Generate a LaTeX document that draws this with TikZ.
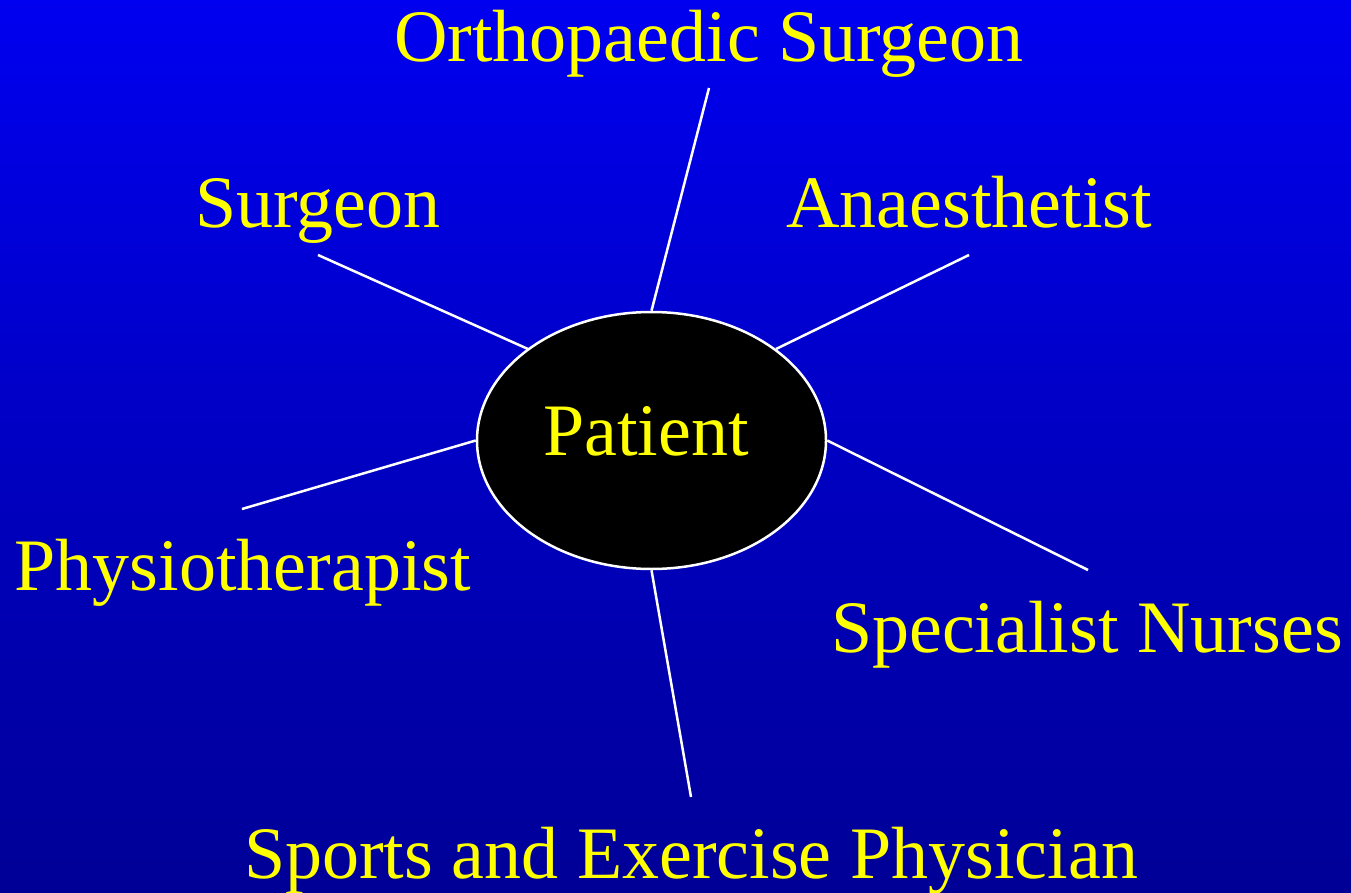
\documentclass[tikz,border=0pt]{standalone}
\usepackage{fontspec}
\setmainfont{Liberation Serif}
\usetikzlibrary{shapes.geometric}
\definecolor{bgtop}{RGB}{0,0,240}
\definecolor{bgbot}{RGB}{0,0,150}
\definecolor{txtyellow}{RGB}{255,255,0}
\tikzset{
  lbl/.style={anchor=base, text=txtyellow, inner sep=0pt, font=\fontsize{74}{80}\selectfont},
  link/.style={draw=white, line width=2.5pt},
  hub/.style={ellipse, draw=white, line width=2.5pt, fill=black, minimum width=349pt, minimum height=257pt, inner sep=0pt}
}
\begin{document}
\begin{tikzpicture}[x=1pt,y=-1pt]
\useasboundingbox (0,0) rectangle (1351,893);
\shade[top color=bgtop, bottom color=bgbot] (0,0) rectangle (1351,893);
\node[hub] (P) at (651.5,440.5) {};
\node[lbl] (Pt) at (646,455) {Patient};
\node[lbl] (ortho) at (709,62) {Orthopaedic Surgeon};
\node[lbl] (surg) at (318,228) {Surgeon};
\node[lbl] (anae) at (969,228) {Anaesthetist};
\node[lbl] (physio) at (243,590) {Physiotherapist};
\node[lbl] (nurse) at (1087,652) {Specialist Nurses};
\node[lbl] (sports) at (691,878) {Sports and Exercise Physician};
\coordinate (cortho) at (709,88);
\coordinate (csurg) at (318,255);
\coordinate (canae) at (969,255);
\coordinate (cphysio) at (242,509);
\coordinate (cnurse) at (1088,570);
\coordinate (csports) at (691,797);
\coordinate (psurg) at (528,349);
\coordinate (panae) at (776,349);
\draw[link] (cortho) -- (P.north);
\draw[link] (csurg) -- (psurg);
\draw[link] (canae) -- (panae);
\draw[link] (cphysio) -- (P.west);
\draw[link] (cnurse) -- (P.east);
\draw[link] (csports) -- (P.south);
\end{tikzpicture}
\end{document}
